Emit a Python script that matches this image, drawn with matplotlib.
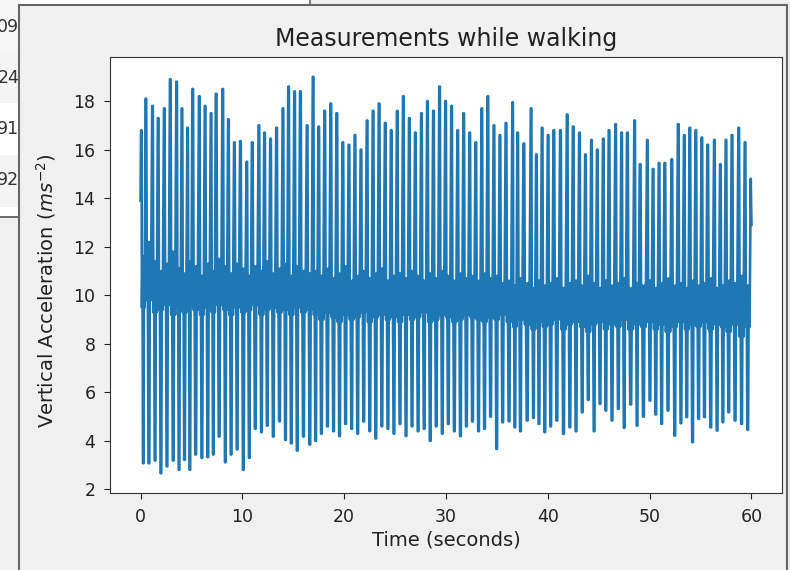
import numpy as np
import matplotlib
matplotlib.use("Agg")
import matplotlib.pyplot as plt
from matplotlib.patches import Rectangle

# Tempo dos picos (s)
peak_t = [0.05, 0.49, 1.15, 1.70, 2.30, 2.89, 3.52, 4.04, 4.60, 5.09, 5.74, 6.31, 6.90, 7.39, 8.05,
          8.60, 9.19, 9.78, 10.41, 10.94, 11.60, 12.15, 12.74, 13.33, 13.96, 14.51, 15.10, 15.67,
          16.33, 16.92, 17.47,
          18.06, 18.66, 19.25, 19.84, 20.44, 21.03, 21.62, 22.22, 22.81, 23.40, 24.00, 24.59, 25.18,
          25.78, 26.37, 26.96, 27.56, 28.15, 28.74, 29.34, 29.93, 30.52, 31.12, 31.71, 32.30, 32.90,
          33.49, 34.08, 34.68, 35.27,
          35.86, 36.52, 37.01, 37.61, 38.33, 38.85, 39.41, 40.00, 40.56, 41.21, 41.87, 42.46, 43.08,
          43.67, 44.26, 44.83, 45.42, 45.98, 46.63, 47.22, 47.78, 48.50, 49.03, 49.75, 50.31, 50.90,
          51.46, 52.15, 52.78, 53.37, 53.92, 54.51, 55.10, 55.67, 56.33, 56.92, 57.47, 58.06, 58.72,
          59.34, 59.93]

# Valores maximos de cada passo (m/s^2)
peak_v = [16.8, 18.1, 17.8, 17.3, 17.7, 18.9, 18.8, 17.7, 16.9, 18.5, 18.2, 17.8, 17.5, 18.3, 18.5,
          17.25, 16.3, 16.35, 15.5, 16.3, 17.0, 16.7, 16.45, 16.9, 17.7, 18.6, 18.4, 18.4, 17.0, 19.0,
          16.95,
          17.6, 17.9, 17.5, 16.3, 16.2, 16.6, 16.0, 17.2, 17.6, 17.9, 17.1, 16.8, 17.6, 18.2, 17.3,
          16.7, 17.5, 18.0, 17.6, 18.6, 18.0, 17.8, 16.8, 17.5, 16.7, 16.3, 17.7, 18.2, 17.0, 16.6,
          17.1, 17.95, 16.7, 16.25, 17.7, 15.8, 16.9, 16.6, 16.8, 16.8, 17.45, 16.95, 16.7, 15.8,
          16.4, 16.0, 16.45, 16.8, 17.05, 16.7, 16.7, 17.2, 15.4, 16.4, 15.2, 15.45, 15.45, 15.6,
          17.05, 16.6, 16.9, 16.8, 16.5, 16.2, 16.4, 15.4, 16.4, 16.6, 16.9, 16.3, 14.8]

# Valores minimos depois de cada pico
trough_v = [3.08, 3.08, 3.19, 2.67, 2.95, 3.19, 2.81, 3.22, 2.81, 3.44, 3.3, 3.33, 3.44, 4.18, 3.12,
            3.44, 3.65, 2.81, 3.3, 4.5, 4.36, 4.63, 4.18, 4.81, 4.04, 3.9, 3.6, 4.18, 3.85,
            4.0, 4.3, 4.6, 4.4, 4.2, 4.7, 4.5, 4.3, 4.8, 4.4, 4.1, 4.6, 4.5, 4.3, 4.7, 4.2, 4.6, 4.4,
            4.5, 4.0, 4.6, 4.3, 4.7, 4.4, 4.2, 4.6, 4.8, 4.4,
            4.5, 5.0, 3.67, 4.77,
            4.81, 4.56, 4.4, 4.84, 4.95, 4.7, 4.36, 4.6, 4.84, 4.29, 4.56, 4.4, 5.18, 5.69, 4.4,
            5.53, 5.25, 4.84, 5.32, 4.54, 5.5, 4.63, 5.0, 5.66, 5.09, 4.7, 5.25, 4.22, 4.73, 4.98,
            3.95, 4.91, 4.98, 4.56, 4.43, 4.77, 5.18, 4.84, 4.7, 4.46]

# Faixa central (oscilacao em volta de ~10)
band_hi = [11.6, 12.2, 11.4, 11.0, 11.3, 11.8, 11.1, 10.9, 11.4, 11.2, 10.8, 11.3, 11.0, 11.5, 11.2,
           10.9, 11.3, 11.1, 10.8, 11.2, 11.0, 11.4, 10.9, 11.1, 11.3, 10.8, 11.2, 11.0, 10.9,
           11.0, 10.8, 11.1, 10.7, 10.9, 11.2, 10.6, 10.8, 11.0, 10.7, 10.9, 11.1, 10.6, 10.8, 10.9,
           10.7, 11.0, 10.8, 10.6, 10.9, 10.7, 11.0, 10.8, 10.6, 10.9, 10.7, 10.8, 10.6, 10.9, 10.7,
           10.8, 10.5,
           10.6, 10.4, 10.7, 10.5, 10.3, 10.6, 10.4, 10.5, 10.7, 10.3, 10.5, 10.6, 10.4, 10.8, 10.5,
           10.3, 10.6, 10.4, 10.5, 10.7, 10.3, 10.5, 10.4, 10.6, 10.3, 10.5, 10.7, 10.4, 10.5, 10.3,
           10.6, 10.4, 10.5, 10.7, 10.3, 10.4, 10.6, 10.5, 10.8, 10.4]
band_lo = [9.5, 9.8, 9.3, 9.4, 9.6, 9.2, 9.5, 9.3, 9.6, 9.4, 9.2, 9.5, 9.3, 9.6, 9.4, 9.2, 9.5, 9.3,
           9.4, 9.6, 9.2, 9.4, 9.5, 9.3, 9.4, 9.2, 9.5, 9.3, 9.4,
           9.2, 9.0, 9.3, 9.1, 8.9, 9.2, 9.0, 9.1, 9.3, 8.9, 9.1, 9.2, 9.0, 9.1, 8.9, 9.2, 9.0, 9.1,
           9.3, 8.9, 9.0, 9.2, 9.1, 8.9, 9.0, 9.2, 9.1, 9.0, 8.9, 9.1, 9.0, 9.2,
           8.9, 8.7, 9.0, 8.8, 8.6, 8.9, 8.7, 8.8, 9.0, 8.6, 8.8, 8.9, 8.7, 8.5, 8.8, 8.9, 8.6, 8.8,
           8.7, 9.0, 8.6, 8.8, 8.7, 8.9, 8.6, 8.8, 8.5, 8.7, 8.9, 8.6, 8.8, 8.7, 8.9, 8.6, 8.8, 8.7,
           8.5, 8.8, 8.3, 8.7]

start_v = 13.9
end_t, end_v = 60.0, 12.9

# Numeros da tabela que aparece atras da janela
table_nums = ["09", "24", "91", "92"]

# Monta a serie passo a passo (pico -> faixa -> vale -> faixa -> proximo pico)
frac = [0.0, 0.1, 0.2, 0.32, 0.44, 0.56, 0.66, 0.8]
t, a = [0.0], [start_v]
for i in range(len(trough_v)):
    t0, dt = peak_t[i], peak_t[i + 1] - peak_t[i]
    t += [t0 + f * dt for f in frac]
    a += [peak_v[i], peak_v[i], band_lo[i], band_hi[i],
          trough_v[i], trough_v[i], band_hi[i], band_lo[i]]
t += [peak_t[-1], end_t]
a += [peak_v[-1], end_v]

fig = plt.figure(figsize=(7.9, 5.7), dpi=100, facecolor='#f0f0f0')

# Fundo da captura de tela (coordenadas em pixels)
bg = fig.add_axes([0, 0, 1, 1], zorder=-1)
bg.set_xlim(0, 790)
bg.set_ylim(570, 0)
bg.axis('off')
bg.add_patch(Rectangle((0, 0), 310, 4.5, facecolor='white', edgecolor='none', zorder=1))
bg.plot([310, 310], [0, 4.5], color='#666666', lw=1.2, zorder=2)
rows = [(0, 52, '#f7f7f7'), (52, 103, '#f4f4f4'), (103, 155, 'white'), (155, 207, '#f4f4f4'),
        (207, 216, 'white')]
for y0, y1, c in rows:
    bg.add_patch(Rectangle((0, y0), 20, y1 - y0, facecolor=c, edgecolor='none', zorder=1))
bg.plot([0, 20], [216.5, 216.5], color='#555555', lw=1.2, zorder=2)
for k, s in enumerate(table_nums):
    bg.text(19.5, 27 + k * 51, s, ha='right', va='center', fontsize=12.5, color='#333333', zorder=2)
bg.add_patch(Rectangle((18.5, 4.5), 768.5, 570, facecolor='#f0f0f0', edgecolor='#666666',
                       lw=1.5, zorder=3))

ax = fig.add_axes([110 / 790, 77 / 570, 672 / 790, 436 / 570])
ax.plot(t, a, color='#1f77b4', lw=1.9)
ax.set_title('Measurements while walking', fontsize=17, color='#222222', pad=8)
ax.set_xlabel('Time (seconds)', fontsize=14, color='#222222')
ax.set_ylabel('Vertical Acceleration ($ms^{-2}$)', fontsize=14, color='#222222')
ax.xaxis.set_label_coords(0.5, -0.087)
ax.yaxis.set_label_coords(-0.078, 0.465)
ax.set_yticks(np.arange(2, 19, 2))
ax.tick_params(labelsize=12.5, colors='#222222', length=4.5, pad=6)
for sp in ax.spines.values():
    sp.set_color('#333333')

plt.savefig('out.png', dpi=100, facecolor=fig.get_facecolor())
